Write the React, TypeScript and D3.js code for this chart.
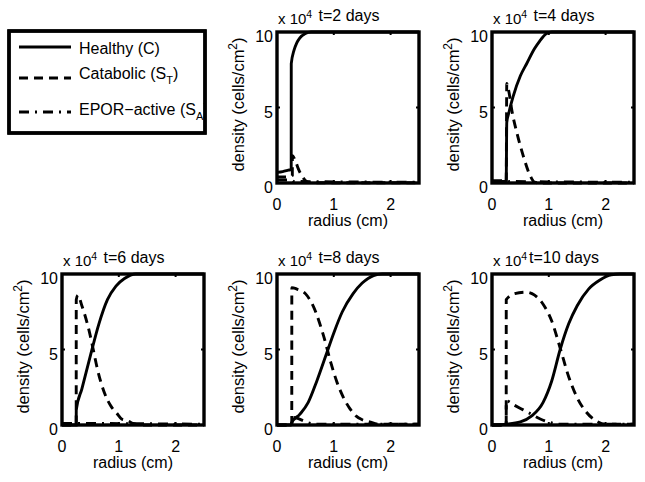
import React from "react";
import * as d3 from "d3";

// panel titles
const titles = ["t=2 days", "t=4 days", "t=6 days", "t=8 days", "t=10 days"];

const xTicks = [0, 1, 2];
const yTicks = [0, 5, 10];

// radius (cm) / density (x 10^4 cells/cm^2)
const healthyR2 = [0, 0.1, 0.2, 0.25, 0.251, 0.3, 0.35, 0.4, 0.5, 0.6, 2.5];
const healthyV2 = [0.7, 0.75, 0.85, 0.9, 7.9, 8.8, 9.3, 9.6, 9.9, 10, 10];
const catabolicR2 = [0, 0.2, 0.27, 0.271, 0.32, 0.38, 0.45, 0.52, 0.6, 2.5];
const catabolicV2 = [0.4, 0.4, 0.5, 1.8, 1.5, 0.9, 0.4, 0.1, 0.02, 0.02];
const eporR2 = [0, 0.25, 0.3, 2.5];
const eporV2 = [0.2, 0.2, 0.1, 0.05];

const healthyR4 = [0, 0.25, 0.26, 0.3, 0.37, 0.5, 0.61, 0.75, 0.84, 0.96, 1.05, 2.5];
const healthyV4 = [0.1, 0.1, 4.0, 4.7, 5.7, 7.1, 7.9, 8.9, 9.4, 9.9, 10, 10];
const catabolicR4 = [0, 0.25, 0.26, 0.3, 0.35, 0.44, 0.55, 0.67, 0.75, 0.85, 2.5];
const catabolicV4 = [0.05, 0.05, 6.6, 6.0, 4.8, 3.3, 1.8, 0.5, 0.05, 0, 0];
const eporR4 = [0, 0.25, 0.3, 2.5];
const eporV4 = [0.15, 0.15, 0.1, 0.05];

const healthyR6 = [0, 0.25, 0.251, 0.35, 0.5, 0.65, 0.8, 0.95, 1.1, 1.3, 2.5];
const healthyV6 = [0, 0, 1.0, 2.4, 4.6, 6.7, 8.3, 9.2, 9.7, 10, 10];
const catabolicR6 = [0, 0.25, 0.251, 0.28, 0.35, 0.48, 0.55, 0.63, 0.75, 0.87, 0.96, 1.05, 1.15, 1.25, 1.4, 2.5];
const catabolicV6 = [0, 0, 8.3, 8.6, 7.9, 6.2, 5.0, 3.6, 2.1, 1.2, 0.8, 0.4, 0.3, 0.1, 0, 0];
const eporR6 = [0, 0.25, 0.3, 2.5];
const eporV6 = [0.1, 0.1, 0.1, 0.05];

const healthyR8 = [0, 0.25, 0.26, 0.4, 0.55, 0.7, 0.86, 1.0, 1.15, 1.34, 1.5, 1.7, 1.85, 2.5];
const healthyV8 = [0, 0, 0.15, 0.7, 1.5, 2.9, 4.6, 6.1, 7.5, 8.7, 9.4, 9.9, 10, 10];
const catabolicR8 = [0, 0.26, 0.261, 0.35, 0.5, 0.68, 0.82, 0.95, 1.05, 1.16, 1.28, 1.39, 1.5, 1.63, 1.8, 2.5];
const catabolicV8 = [0, 0, 9.1, 9.0, 8.7, 7.5, 5.9, 4.1, 2.9, 1.9, 1.1, 0.6, 0.35, 0.2, 0.05, 0.05];
const eporR8 = [0, 0.26, 0.261, 0.35, 0.45, 0.55, 0.7, 2.5];
const eporV8 = [0, 0, 0.5, 0.45, 0.3, 0.15, 0.05, 0.05];

const healthyR10 = [0, 0.25, 0.5, 0.7, 0.9, 1.05, 1.2, 1.35, 1.5, 1.7, 1.9, 2.1, 2.25, 2.5];
const healthyV10 = [0, 0.05, 0.2, 0.6, 1.5, 2.9, 5.0, 6.7, 7.9, 9.0, 9.6, 9.95, 10, 10];
const catabolicR10 = [0, 0.25, 0.251, 0.4, 0.6, 0.75, 0.9, 1.05, 1.2, 1.35, 1.5, 1.65, 1.8, 2.0, 2.5];
const catabolicV10 = [0, 0, 8.3, 8.7, 8.8, 8.6, 8.0, 6.9, 5.1, 3.2, 1.8, 0.9, 0.35, 0.05, 0.05];
const eporR10 = [0, 0.25, 0.251, 0.4, 0.55, 0.7, 0.85, 1.0, 1.2, 2.5];
const eporV10 = [0, 0, 1.6, 1.3, 1.0, 0.7, 0.4, 0.2, 0.05, 0.05];

const healthy = [
  [healthyR2, healthyV2],
  [healthyR4, healthyV4],
  [healthyR6, healthyV6],
  [healthyR8, healthyV8],
  [healthyR10, healthyV10],
];
const catabolic = [
  [catabolicR2, catabolicV2],
  [catabolicR4, catabolicV4],
  [catabolicR6, catabolicV6],
  [catabolicR8, catabolicV8],
  [catabolicR10, catabolicV10],
];
const epor = [
  [eporR2, eporV2],
  [eporR4, eporV4],
  [eporR6, eporV6],
  [eporR8, eporV8],
  [eporR10, eporV10],
];

// panel placement (left, top) in px
const panelPos = [
  [277, 32],
  [492, 32],
  [62, 274],
  [277, 274],
  [492, 274],
];
const pw = 142;
const ph = 151;

const font = "'Liberation Sans', Arial, sans-serif";
const DASH = "9,6";
const DASHDOT = "10,6,2,6";

function Panel({ idx }: { idx: number }) {
  const [left, top] = panelPos[idx];
  const x = d3.scaleLinear().domain([0, 2.5]).range([left, left + pw]);
  const y = d3.scaleLinear().domain([0, 10]).range([top + ph, top]);
  const line = d3
    .line<[number, number]>()
    .x((d) => x(d[0]))
    .y((d) => y(d[1]))
    .curve(d3.curveMonotoneX);
  const pts = (s: number[][]) => s[0].map((r, i) => [r, s[1][i]] as [number, number]);
  const clipId = `clip${idx}`;
  return (
    <g>
      <clipPath id={clipId}>
        <rect x={left} y={top - 2} width={pw} height={ph + 4} />
      </clipPath>
      <g clipPath={`url(#${clipId})`} fill="none" stroke="#000" strokeWidth={2.9}>
        <path d={line(pts(epor[idx])) || ""} strokeDasharray={DASHDOT} />
        <path d={line(pts(catabolic[idx])) || ""} strokeDasharray={DASH} />
        <path d={line(pts(healthy[idx])) || ""} />
      </g>
      {/* ticks inside */}
      {yTicks.map((t) => (
        <g key={"yt" + t} stroke="#000" strokeWidth={2}>
          <line x1={left} x2={left + 3} y1={y(t)} y2={y(t)} />
          <line x1={left + pw} x2={left + pw - 3} y1={y(t)} y2={y(t)} />
        </g>
      ))}
      {xTicks.map((t) => (
        <g key={"xt" + t} stroke="#000" strokeWidth={2}>
          <line x1={x(t)} x2={x(t)} y1={top + ph} y2={top + ph - 3} />
          <line x1={x(t)} x2={x(t)} y1={top} y2={top + 3} />
        </g>
      ))}
      <rect x={left} y={top} width={pw} height={ph} fill="none" stroke="#000" strokeWidth={3.4} />
      <g fontFamily={font} fontSize={16} fill="#000">
        {yTicks.map((t) => (
          <text key={"yl" + t} x={left - 4} y={y(t) + 10} textAnchor="end">
            {t}
          </text>
        ))}
        {xTicks.map((t) => (
          <text key={"xl" + t} x={x(t)} y={top + ph + 27} textAnchor="middle">
            {t}
          </text>
        ))}
        <text x={left + pw / 2} y={top + ph + 43} textAnchor="middle">
          radius (cm)
        </text>
        <text
          transform={`translate(${left - 33},${top + ph / 2 - 3}) rotate(-90)`}
          textAnchor="middle"
          fontSize={16.5}
        >
          density (cells/cm<tspan fontSize={12} dy={-7}>2</tspan>
          <tspan dy={7}>)</tspan>
        </text>
        <text x={left + 1} y={top - 8} fontSize={15}>
          x 10<tspan fontSize={10.5} dy={-6}>4</tspan>
        </text>
        <text x={left + pw / 2 + 1} y={top - 11} textAnchor="middle">
          {titles[idx]}
        </text>
      </g>
    </g>
  );
}

function Legend() {
  const lx1 = 19;
  const lx2 = 71;
  return (
    <g>
      <clipPath id="legclip">
        <rect x={9} y={31} width={196} height={102} />
      </clipPath>
      <rect x={9} y={31} width={196} height={102} fill="#fff" stroke="#000" strokeWidth={3.4} />
      <g stroke="#000" strokeWidth={2.9}>
        <line x1={lx1} x2={lx2} y1={47} y2={47} />
        <line x1={lx1} x2={lx2} y1={78} y2={78} strokeDasharray={DASH} />
        <line x1={lx1} x2={lx2} y1={112} y2={112} strokeDasharray={DASHDOT} />
      </g>
      <g fontFamily={font} fontSize={16} fill="#000" clipPath="url(#legclip)">
        <text x={79} y={54}>Healthy (C)</text>
        <text x={79} y={79}>
          Catabolic (S<tspan fontSize={11} dy={5}>T</tspan>
          <tspan dy={-5}>)</tspan>
        </text>
        <text x={79} y={115}>
          EPOR−active (S<tspan fontSize={11} dy={5}>A</tspan>
          <tspan dy={-5}>)</tspan>
        </text>
      </g>
      <rect x={9} y={31} width={196} height={102} fill="none" stroke="#000" strokeWidth={3.4} />
    </g>
  );
}

export default function App() {
  return (
    <svg
      width={645}
      height={482}
      style={{ position: "absolute", left: 0, top: 0, background: "#fff" }}
    >
      <rect width={645} height={482} fill="#fff" />
      <Legend />
      {titles.map((_, i) => (
        <Panel key={i} idx={i} />
      ))}
    </svg>
  );
}
